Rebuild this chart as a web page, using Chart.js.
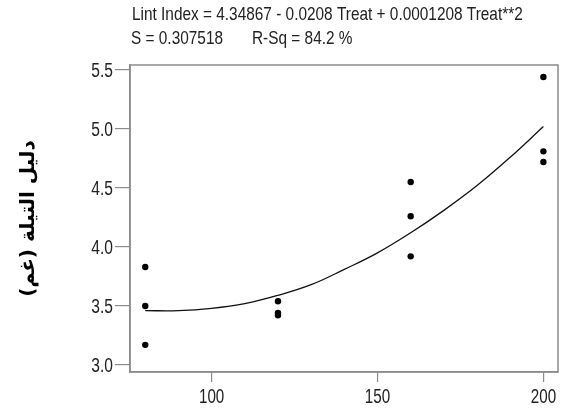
<!DOCTYPE html>
<html>
<head>
<meta charset="utf-8">
<script src="https://cdn.jsdelivr.net/npm/chart.js@4/dist/chart.umd.min.js"></script>
<style>
  html, body { margin: 0; padding: 0; background: #fff; }
  canvas { display: block; }
</style>
</head>
<body>
<canvas id="c" width="573" height="419"></canvas>
<script>
// ---- Data ----
const treatLevels = [80, 80, 80, 120, 120, 120, 160, 160, 160, 200, 200, 200];
const lintIndex   = [3.83, 3.50, 3.17, 3.54, 3.44, 3.42, 4.55, 4.26, 3.92, 5.44, 4.81, 4.72];
// fitted curve
const fitTreat = [80, 90, 100, 110, 120, 130, 140, 150, 160, 170, 180, 190, 200];
const fitLint  = [3.46, 3.46, 3.48, 3.52, 3.59, 3.68, 3.81, 3.95, 4.12, 4.31, 4.52, 4.76, 5.02];
const xTicks = [100, 150, 200];
const yTicks = [3.0, 3.5, 4.0, 4.5, 5.0, 5.5];
const titleLine1 = 'Lint Index = 4.34867 - 0.0208 Treat + 0.0001208 Treat**2';
const titleLine2a = 'S = 0.307518';
const titleLine2b = 'R-Sq = 84.2 %';
const yTitle = 'دليل التيلة (غم)';

const FONT = '"Liberation Sans", Arial, sans-serif';
const TEXT = '#222';
const AXIS = '#8c8c8c';

function narrowText(ctx, text, x, y, align, baseline, sx, sy) {
  ctx.save();
  ctx.translate(x, y);
  ctx.scale(sx, sy);
  ctx.textAlign = align;
  ctx.textBaseline = baseline;
  ctx.fillText(text, 0, 0);
  ctx.restore();
}

const textPlugin = {
  id: 'narrowText',
  afterDraw(chart) {
    const ctx = chart.ctx;
    const a = chart.chartArea;
    ctx.save();
    // box around plot area
    ctx.strokeStyle = AXIS;
    ctx.lineWidth = 1.5;
    ctx.strokeRect(a.left, a.top, a.right - a.left, a.bottom - a.top);
    ctx.fillStyle = TEXT;
    ctx.font = '19px ' + FONT;
    // header
    narrowText(ctx, titleLine1, 132, 20, 'left', 'alphabetic', 0.81, 1);
    narrowText(ctx, titleLine2a, 131, 44, 'left', 'alphabetic', 0.81, 1);
    narrowText(ctx, titleLine2b, 252, 44, 'left', 'alphabetic', 0.81, 1);
    // tick labels via the library's scales
    const xs = chart.scales.x, ys = chart.scales.y;
    xs.ticks.forEach(t => {
      narrowText(ctx, String(t.value), xs.getPixelForValue(t.value), 403, 'center', 'alphabetic', 0.8, 1.1);
    });
    ys.ticks.forEach(t => {
      narrowText(ctx, t.value.toFixed(1), a.left - 17, ys.getPixelForValue(t.value) + 1, 'right', 'middle', 0.82, 1.1);
    });
    ctx.restore();
  }
};

const pts = treatLevels.map((x, i) => ({ x: x, y: lintIndex[i] }));
const fit = fitTreat.map((x, i) => ({ x: x, y: fitLint[i] }));

new Chart(document.getElementById('c'), {
  type: 'scatter',
  data: {
    datasets: [
      {
        label: 'Fit',
        data: fit,
        showLine: true,
        borderColor: '#111',
        borderWidth: 1.3,
        pointRadius: 0,
        tension: 0.4,
        fill: false
      },
      {
        label: 'Lint Index',
        data: pts,
        pointRadius: 3.2,
        pointBackgroundColor: '#000',
        pointBorderColor: '#000',
        pointBorderWidth: 0
      }
    ]
  },
  options: {
    responsive: false,
    animation: false,
    devicePixelRatio: 1,
    layout: { padding: { left: 0, right: 15, top: 65, bottom: 0 } },
    plugins: {
      legend: { display: false },
      tooltip: { enabled: false },
      title: { display: false }
    },
    scales: {
      x: {
        type: 'linear',
        min: 75.4,
        max: 204.4,
        afterBuildTicks: (s) => { s.ticks = xTicks.map(v => ({ value: v })); },
        afterFit: (s) => { s.height = 47; },
        grid: { drawOnChartArea: false, drawTicks: true, tickLength: 10, color: AXIS, lineWidth: 1.2 },
        border: { display: true, color: AXIS, width: 1.5 },
        ticks: { display: false }
      },
      y: {
        type: 'linear',
        min: 2.94,
        max: 5.542,
        afterBuildTicks: (s) => { s.ticks = yTicks.map(v => ({ value: v })); },
        afterFit: (s) => { s.width = 130; },
        grid: { drawOnChartArea: false, drawTicks: true, tickLength: 15, color: AXIS, lineWidth: 1.2 },
        border: { display: true, color: AXIS, width: 1.5 },
        ticks: { display: false },
        title: {
          display: true,
          text: yTitle,
          color: '#000',
          font: { family: '"DejaVu Sans", "Noto Sans", sans-serif', size: 20, weight: 'bold' },
          padding: { top: 17, bottom: 0 }
        }
      }
    }
  },
  plugins: [textPlugin]
});
</script>
</body>
</html>
